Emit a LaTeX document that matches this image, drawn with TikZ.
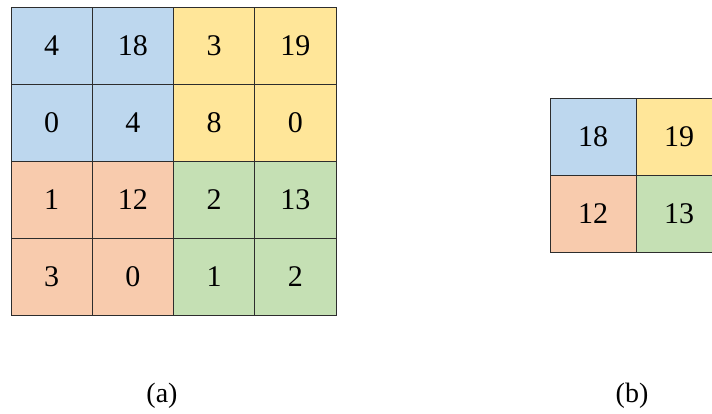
\documentclass[tikz,border=0pt]{standalone}
\usepackage{fontspec}
\setmainfont{Liberation Serif}
\usetikzlibrary{positioning}
\definecolor{poolblue}{RGB}{189,215,238}
\definecolor{poolyellow}{RGB}{255,230,153}
\definecolor{poolorange}{RGB}{248,203,173}
\definecolor{poolgreen}{RGB}{197,224,180}
\definecolor{ink}{RGB}{45,45,45}
\tikzset{
  cell/.style={draw=ink,line width=0.8pt,fill=#1,inner sep=0pt,
    minimum width=81.25pt,minimum height=77pt,font=\fontsize{30}{32}\selectfont},
  cell/.default=white,
  outcell/.style={cell=#1,minimum width=86pt},
  caption/.style={font=\fontsize{28}{30}\selectfont},
}

\begin{document}
\begin{tikzpicture}[x=1pt,y=1pt]
  \useasboundingbox (0,0) rectangle (712,413);
  \clip (0,0) rectangle (712,413);
  % (a) input map
  \foreach \v/\c [count=\i from 0] in {4/poolblue,18/poolblue,3/poolyellow,19/poolyellow,
      0/poolblue,4/poolblue,8/poolyellow,0/poolyellow,
      1/poolorange,12/poolorange,2/poolgreen,13/poolgreen,
      3/poolorange,0/poolorange,1/poolgreen,2/poolgreen} {
    \pgfmathtruncatemacro\col{mod(\i,4)}
    \pgfmathtruncatemacro\row{div(\i,4)}
    \node[cell=\c] (in-\row-\col) at ({11+81.25*(\col+0.5)},{406-77*(\row+0.5)}) {\v};
  }
  % (b) pooled map
  \foreach \v/\c [count=\i from 0] in {18/poolblue,19/poolyellow,12/poolorange,13/poolgreen} {
    \pgfmathtruncatemacro\col{mod(\i,2)}
    \pgfmathtruncatemacro\row{div(\i,2)}
    \node[outcell=\c] (out-\row-\col) at ({550+86*(\col+0.5)},{315-77*(\row+0.5)}) {\v};
  }
  \node[caption] (cap-a) at (162,17) {(a)};
  \node[caption] (cap-b) at (632,17) {(b)};
\end{tikzpicture}
\end{document}
